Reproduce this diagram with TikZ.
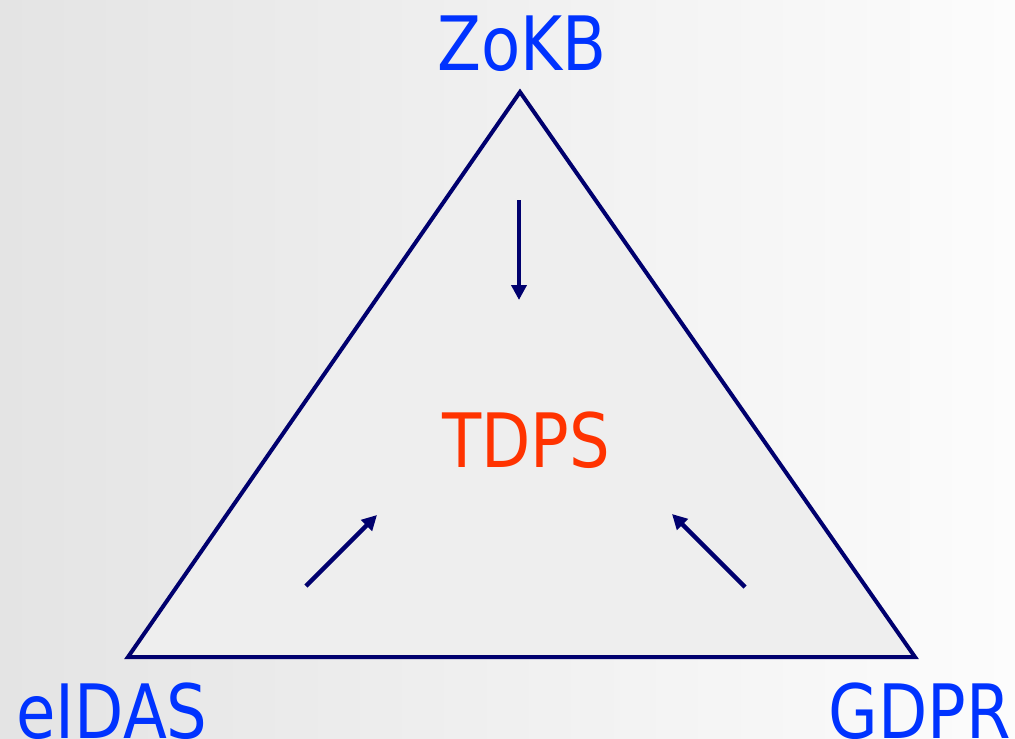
\documentclass[tikz,border=0pt]{standalone}
\usepackage{fontspec}
\setmainfont{DejaVu Sans Condensed}
\usetikzlibrary{arrows.meta}
\definecolor{lblblue}{RGB}{0,51,255}
\definecolor{navy}{RGB}{0,0,110}
\definecolor{tdpsred}{RGB}{255,51,0}
\definecolor{trifill}{RGB}{238,238,238}
\definecolor{bgleft}{RGB}{228,228,228}
\definecolor{bgright}{RGB}{252,252,252}
\tikzset{
  lbl/.style={font=\fontsize{75}{75}\selectfont, inner sep=0pt, anchor=base, xscale=0.95},
  tri/.style={draw=navy, line width=4pt, fill=trifill, line join=miter},
  flow/.style={draw=navy, line width=4.5pt, -{Triangle[length=15pt,width=15pt]}}
}
\begin{document}
\begin{tikzpicture}[x=1pt,y=-1pt]
\useasboundingbox (0,0) rectangle (1015,739);
\shade[left color=bgleft, right color=bgright] (0,0) rectangle (1015,739);
\coordinate (top) at (520,92);
\coordinate (bl) at (128,657);
\coordinate (br) at (915,657);
\draw[tri] (top) -- (bl) -- (br) -- cycle;
\node[lbl, text=lblblue] (zokb) at (522,70) {ZoKB};
\node[lbl, text=tdpsred] (tdps) at (526,467) {TDPS};
\node[lbl, text=lblblue] (eidas) at (112,738) {eIDAS};
\node[lbl, text=lblblue] (gdpr) at (920,738) {GDPR};
\coordinate (a1s) at (519,200);
\coordinate (a1e) at (519,300);
\coordinate (a2s) at (306,586);
\coordinate (a2e) at (377,515);
\coordinate (a3s) at (745,587);
\coordinate (a3e) at (672,514);
\draw[flow] (a1s) -- (a1e);
\draw[flow] (a2s) -- (a2e);
\draw[flow] (a3s) -- (a3e);
\end{tikzpicture}
\end{document}
